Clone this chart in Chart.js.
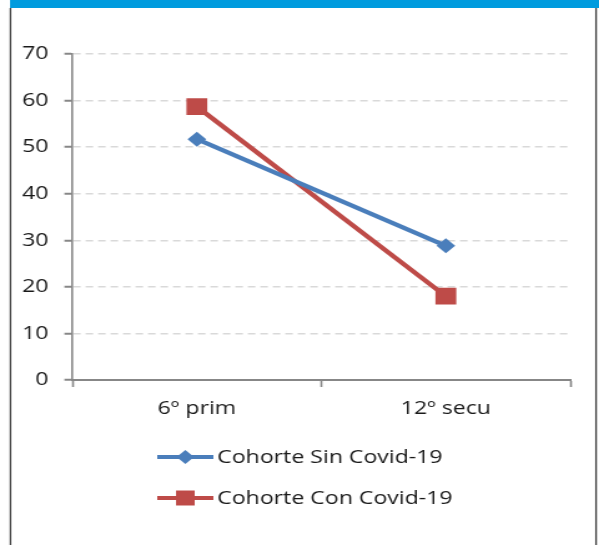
<!DOCTYPE html>
<html>
<head>
<meta charset="utf-8">
<script src="https://cdn.jsdelivr.net/npm/chart.js@4/dist/chart.umd.min.js"></script>
<style>
  html, body { margin: 0; padding: 0; background: #ffffff; overflow: hidden; }
  /* the chart is laid out on a narrower canvas and widened to the page */
  #wrap { width: 480px; height: 545px; transform: scaleX(1.248); transform-origin: 0 0; }
  #c { display: block; }
</style>
</head>
<body>
<div id="wrap"><canvas id="c" width="480" height="545"></canvas></div>
<script>
// Cohort comparison: share by school level, without vs. with Covid-19
const categories = ['6º prim', '12º secu'];
const sinCovid = [51.7, 28.8];
const conCovid = [58.7, 18.0];
const yTicks = [0, 10, 20, 30, 40, 50, 60, 70];
const seriesNames = ['Cohorte Sin Covid-19', 'Cohorte Con Covid-19'];

const FONT = "'Open Sans', 'DejaVu Sans', sans-serif";
const TEXT = '#1a1a1a';
const AXIS = '#878787';

// Outer frame: blue band on top and thin dark borders on the sides
const framePlugin = {
  id: 'frame',
  beforeDraw(chart) {
    const ctx = chart.ctx;
    ctx.save();
    ctx.fillStyle = '#ffffff';
    ctx.fillRect(0, 0, chart.width, chart.height);
    ctx.fillStyle = '#009bde';
    ctx.fillRect(8, 0, chart.width - 8, 8);
    ctx.strokeStyle = '#3a3a3a';
    ctx.lineWidth = 1.3;
    ctx.beginPath();
    ctx.moveTo(8.4, 8); ctx.lineTo(8.4, chart.height);
    ctx.moveTo(477.6, 8); ctx.lineTo(477.6, chart.height);
    ctx.stroke();
    ctx.restore();
  }
};

// Vertical legend under the axis: line sample with marker, then series name
const stackedLegend = {
  id: 'stackedLegend',
  afterDraw(chart) {
    const ctx = chart.ctx;
    const x0 = 126, x1 = 171, textX = 174;
    const rows = [457, 498];
    ctx.save();
    chart.data.datasets.forEach((ds, i) => {
      const y = rows[i];
      ctx.strokeStyle = ds.borderColor;
      ctx.lineWidth = 4;
      ctx.beginPath();
      ctx.moveTo(x0, y); ctx.lineTo(x1, y);
      ctx.stroke();
      ctx.fillStyle = ds.pointBackgroundColor;
      ctx.strokeStyle = ds.pointBackgroundColor;
      Chart.helpers.drawPoint(ctx, {
        pointStyle: ds.pointStyle,
        radius: ds.legendRadius,
        rotation: 0,
        borderWidth: 0
      }, (x0 + x1) / 2, y);
      ctx.fillStyle = TEXT;
      ctx.font = '18.5px ' + FONT;
      ctx.textAlign = 'left';
      ctx.textBaseline = 'middle';
      ctx.fillText(ds.label, textX, y + 1);
    });
    ctx.restore();
  }
};

new Chart(document.getElementById('c'), {
  type: 'line',
  data: {
    labels: categories,
    datasets: [
      {
        label: seriesNames[0],
        data: sinCovid,
        borderColor: '#4a7ebb',
        backgroundColor: '#4a7ebb',
        pointBackgroundColor: '#4a7ebb',
        pointBorderColor: '#4a7ebb',
        borderWidth: 4.2,
        pointStyle: 'rectRot',
        pointRadius: 7.5,
        pointBorderWidth: 0,
        legendRadius: 7,
        tension: 0
      },
      {
        label: seriesNames[1],
        data: conCovid,
        borderColor: '#be4b48',
        backgroundColor: '#be4b48',
        pointBackgroundColor: '#be4b48',
        pointBorderColor: '#be4b48',
        borderWidth: 4.2,
        pointStyle: 'rect',
        pointRadius: 11.8,
        pointBorderWidth: 0,
        legendRadius: 10.6,
        tension: 0
      }
    ]
  },
  options: {
    responsive: false,
    animation: false,
    devicePixelRatio: 1,
    layout: { padding: { left: 8, top: 54, right: 23, bottom: 125 } },
    plugins: {
      legend: { display: false },
      tooltip: { enabled: false },
      title: { display: false }
    },
    scales: {
      x: {
        type: 'category',
        offset: true,
        grid: {
          offset: true,
          drawOnChartArea: false,
          drawTicks: true,
          tickLength: 7,
          tickColor: AXIS,
          tickWidth: 1.6
        },
        border: { display: true, color: AXIS, width: 2 },
        ticks: {
          color: TEXT,
          font: { family: FONT, size: 18.5 },
          padding: 11,
          maxRotation: 0
        },
        afterFit(scale) { scale.height = 40; }
      },
      y: {
        min: 0,
        max: 70,
        afterBuildTicks(scale) { scale.ticks = yTicks.map(v => ({ value: v })); },
        grid: {
          color: '#d9d9d9',
          lineWidth: 1.5,
          drawTicks: true,
          tickLength: 6.4,
          tickColor: AXIS,
          tickWidth: 2,
          tickBorderDash: []
        },
        border: { display: true, color: AXIS, width: 1.6, dash: [6, 4] },
        ticks: {
          color: TEXT,
          font: { family: FONT, size: 18.5 },
          padding: 12.8
        },
        afterFit(scale) { scale.width = 50; }
      }
    }
  },
  plugins: [framePlugin, stackedLegend]
});
</script>
</body>
</html>
